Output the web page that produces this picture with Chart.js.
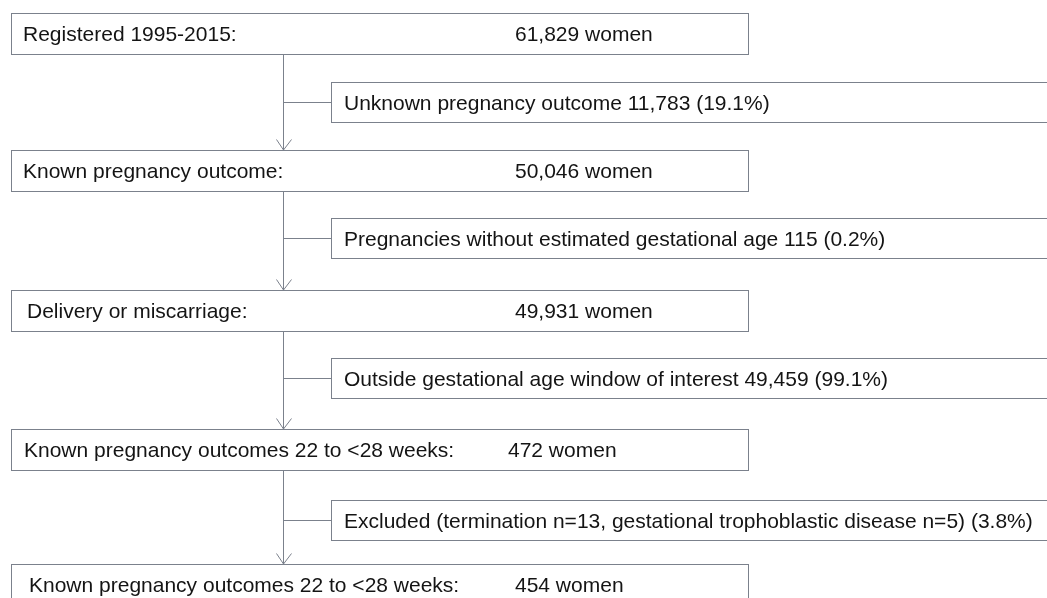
<!DOCTYPE html>
<html>
<head>
<meta charset="utf-8">
<title>Flow chart</title>
<script src="https://cdn.jsdelivr.net/npm/chart.js@4.4.1/dist/chart.umd.min.js"></script>
<style>
  html, body { margin: 0; padding: 0; background: #fff; }
  #flow { display: block; }
</style>
</head>
<body>
<canvas id="flow" width="1047" height="598"></canvas>
<script>
// Flow chart data
const stepLabels = [
  'Registered 1995-2015:',
  'Known pregnancy outcome:',
  'Delivery or miscarriage:',
  'Known pregnancy outcomes 22 to <28 weeks:',
  'Known pregnancy outcomes 22 to <28 weeks:'
];
const stepCounts = [61829, 50046, 49931, 472, 454];

const exclusionLabels = [
  'Unknown pregnancy outcome',
  'Pregnancies without estimated gestational age',
  'Outside gestational age window of interest',
  'Excluded (termination n=13, gestational trophoblastic disease n=5)'
];
const exclusionCounts = [11783, 115, 49459, null];
const exclusionPercents = [19.1, 0.2, 99.1, 3.8];

// Layout (in scale units = pixels of the 1047x598 frame)
const layout = {
  mainLeft: 11, mainRight: 748, spineX: 283,
  mainTop: [13, 150, 290, 429, 564], mainHeight: 41,
  labelX: [23, 23, 27, 24, 29],
  countX: [515, 515, 515, 508, 515],
  sideLeft: 331, sideRight: 1070, sideTextX: 344,
  sideTop: [82, 218, 358, 500], sideHeight: 40,
  arrowW: 7.5, arrowH: 11
};

const LINE_COLOR = '#7b818c';
const TEXT_COLOR = '#141414';
const FONT = '21px "Liberation Sans", Arial, sans-serif';

const fmt = n => n.toLocaleString('en-US');

const flowPlugin = {
  id: 'flow',
  afterDraw(chart) {
    const ctx = chart.ctx;
    const X = v => Math.round(chart.scales.x.getPixelForValue(v)) + 0.5;
    const Y = v => Math.round(chart.scales.y.getPixelForValue(v)) + 0.5;

    ctx.save();
    ctx.strokeStyle = LINE_COLOR;
    ctx.lineWidth = 1;
    ctx.font = FONT;
    ctx.fillStyle = TEXT_COLOR;
    ctx.textBaseline = 'alphabetic';

    const box = (x0, y0, x1, y1) => {
      ctx.strokeRect(X(x0), Y(y0), X(x1) - X(x0), Y(y1) - Y(y0));
    };
    const line = (x0, y0, x1, y1) => {
      ctx.beginPath();
      ctx.moveTo(X(x0), Y(y0));
      ctx.lineTo(X(x1), Y(y1));
      ctx.stroke();
    };

    // main boxes
    stepLabels.forEach((label, i) => {
      const top = layout.mainTop[i];
      const bottom = top + layout.mainHeight;
      box(layout.mainLeft, top, layout.mainRight, bottom);
      const base = chart.scales.y.getPixelForValue(top + layout.mainHeight / 2) + 7.5;
      ctx.fillText(label, chart.scales.x.getPixelForValue(layout.labelX[i]), base);
      ctx.fillText(fmt(stepCounts[i]) + ' women', chart.scales.x.getPixelForValue(layout.countX[i]), base);
    });

    // exclusion boxes, spine and arrows
    exclusionLabels.forEach((label, i) => {
      const top = layout.sideTop[i];
      const bottom = top + layout.sideHeight;
      const mid = top + layout.sideHeight / 2;
      box(layout.sideLeft, top, layout.sideRight, bottom);
      let text = label;
      if (exclusionCounts[i] !== null) text += ' ' + fmt(exclusionCounts[i]);
      text += ' (' + exclusionPercents[i].toFixed(1) + '%)';
      ctx.fillText(text, chart.scales.x.getPixelForValue(layout.sideTextX),
        chart.scales.y.getPixelForValue(mid) + 7.5);

      const from = layout.mainTop[i] + layout.mainHeight;
      const to = layout.mainTop[i + 1];
      line(layout.spineX, from, layout.spineX, to);
      line(layout.spineX, mid, layout.sideLeft, mid);
      // open arrow head
      ctx.beginPath();
      ctx.moveTo(X(layout.spineX - layout.arrowW), Y(to - layout.arrowH));
      ctx.lineTo(X(layout.spineX), Y(to) - 0.5);
      ctx.lineTo(X(layout.spineX + layout.arrowW), Y(to - layout.arrowH));
      ctx.stroke();
    });

    ctx.restore();
  }
};

const chart = new Chart(document.getElementById('flow'), {
  type: 'scatter',
  data: { datasets: [{ data: [] }] },
  options: {
    responsive: false,
    animation: false,
    events: [],
    layout: { padding: 0 },
    plugins: { legend: { display: false }, tooltip: { enabled: false } },
    scales: {
      x: { type: 'linear', min: 0, max: 1047, display: false },
      y: { type: 'linear', min: 0, max: 598, reverse: true, display: false }
    }
  },
  plugins: [flowPlugin]
});
</script>
</body>
</html>
